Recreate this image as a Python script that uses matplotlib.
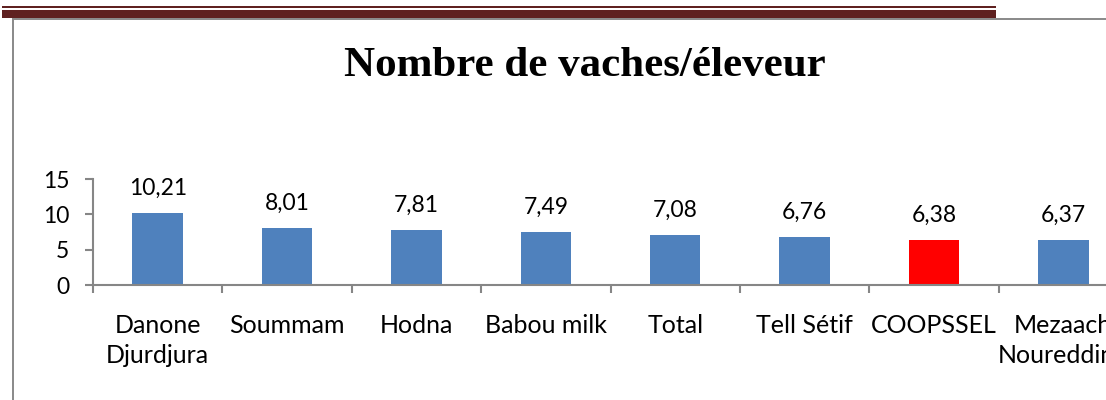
import matplotlib
matplotlib.use("Agg")
import matplotlib.pyplot as plt
from matplotlib.patches import Rectangle
from matplotlib.ticker import FixedLocator

categories = ["Danone\nDjurdjura", "Soummam", "Hodna", "Babou milk", "Total",
              "Tell Sétif", "COOPSSEL", "Mezaach\nNoureddine"]
values = [10.21, 8.01, 7.81, 7.49, 7.08, 6.76, 6.38, 6.37]
value_labels = ["10,21", "8,01", "7,81", "7,49", "7,08", "6,76", "6,38", "6,37"]
highlight = "COOPSSEL"
title = "Nombre de vaches/éleveur"
y_ticks = [0, 5, 10, 15]

W, H = 1106, 400
fig = plt.figure(figsize=(W / 100, H / 100), dpi=100)

def fx(px):
    return px / W

def fy(py):
    return 1 - py / H

# decorative page elements
dark_red = "#5F2120"
gray = "#8C8C8C"
fig.patches.append(Rectangle((fx(2), fy(8)), fx(994), 2 / H, transform=fig.transFigure,
                             facecolor=dark_red, edgecolor="none"))
fig.patches.append(Rectangle((fx(2), fy(17.5)), fx(994), 7.5 / H, transform=fig.transFigure,
                             facecolor=dark_red, edgecolor="none"))
fig.patches.append(Rectangle((fx(12), fy(19.5)), fx(W - 12), 2 / H, transform=fig.transFigure,
                             facecolor=gray, edgecolor="none"))
fig.patches.append(Rectangle((fx(12), 0), 2 / W, fy(18), transform=fig.transFigure,
                             facecolor=gray, edgecolor="none"))

ax_left, ax_right = 93, 1128
ax_top, ax_bottom = 179, 285
ax = fig.add_axes([fx(ax_left), fy(ax_bottom), fx(ax_right - ax_left), (ax_bottom - ax_top) / H])

colors = ["#FF0000" if c == highlight else "#4F81BD" for c in categories]
x = list(range(len(categories)))
ax.bar(x, values, width=0.39, color=colors, edgecolor="none", zorder=2)

font = "Lato"
for xi, v, lab in zip(x, values, value_labels):
    ax.annotate(lab, (xi, v), xytext=(0, 13), textcoords="offset points",
                ha="center", va="baseline", fontsize=16.5, family=font, color="#000000")

ax.set_xlim(-0.5, len(categories) - 0.5)
ax.set_ylim(0, 15)
ax.set_yticks(y_ticks)
ax.set_yticklabels([str(t) for t in y_ticks], family=font, fontsize=16.5)
ax.set_xticks(x)
ax.set_xticklabels(categories, family=font, fontsize=18, linespacing=1.35)
ax.xaxis.set_minor_locator(FixedLocator([i - 0.5 for i in range(len(categories) + 1)]))

axis_col = "#868686"
for s in ["top", "right"]:
    ax.spines[s].set_visible(False)
for s in ["left", "bottom"]:
    ax.spines[s].set_color(axis_col)
    ax.spines[s].set_linewidth(1.5)

ax.tick_params(axis="y", direction="out", length=6, width=1.5, color=axis_col, pad=11)
ax.tick_params(axis="x", which="major", length=0, pad=21)
ax.tick_params(axis="x", which="minor", direction="out", length=6, width=1.5, color=axis_col)

fig.text(fx(585), fy(76), title, ha="center", va="baseline", fontsize=31,
         fontweight="bold", family="Liberation Serif")

fig.savefig("out.png", dpi=100)
